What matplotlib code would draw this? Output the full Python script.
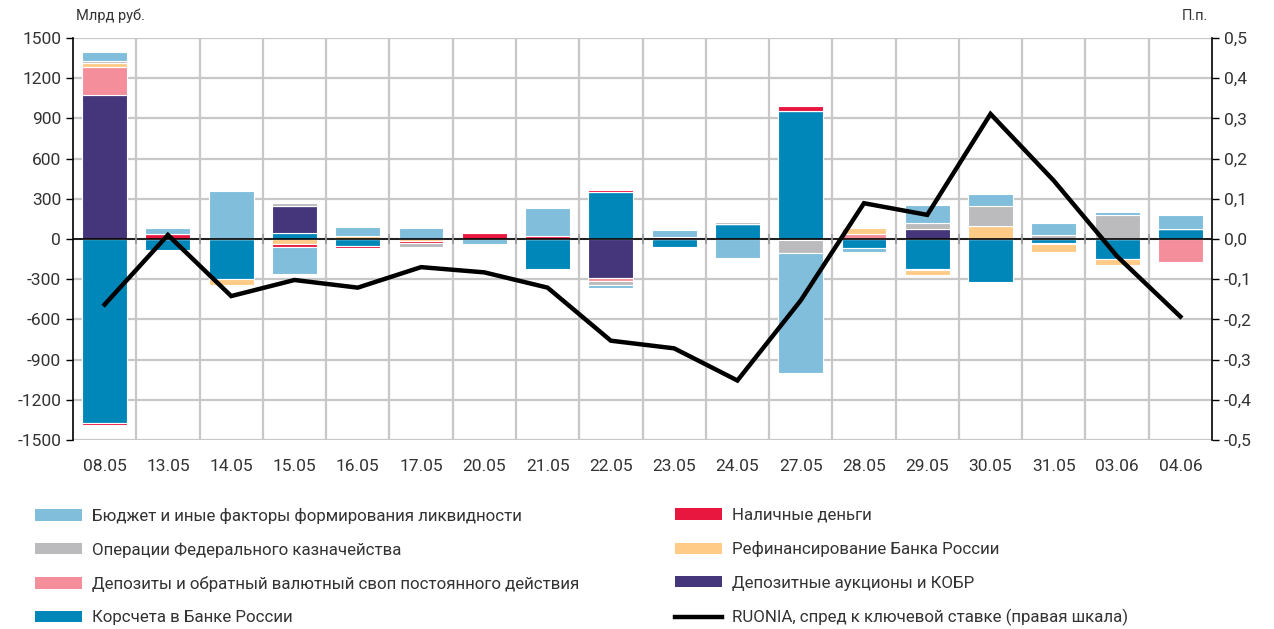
import matplotlib
matplotlib.use("Agg")
import matplotlib.pyplot as plt
import numpy as np
from matplotlib.patches import Patch
from matplotlib.lines import Line2D

plt.rcParams['font.family'] = ['Roboto', 'DejaVu Sans']

dates = ['08.05', '13.05', '14.05', '15.05', '16.05', '17.05', '20.05', '21.05', '22.05',
         '23.05', '24.05', '27.05', '28.05', '29.05', '30.05', '31.05', '03.06', '04.06']

# stacking order (bottom to top)
korschet = [-1370, -80, -296, 45, -50, 0, 0, -221, 351, -60, 110, 955, -65, -221, -321, -27, -149, 72]
auctions = [1075, 0, 0, 204, 0, 0, 0, 0, -289, 0, 0, 0, 0, 77, 0, 0, 0, 0]
deposits = [210, 0, 0, 0, 0, 0, 0, 0, -25, 0, 0, -10, 35, -8, 0, -10, 0, -169]
refin = [25, 0, -50, -40, 20, -12, 0, 0, 0, 0, 0, 0, 45, -42, 97, -57, -42, 0]
cash = [-20, 40, 0, -18, -15, -15, 45, 22, 17, 15, 0, 40, 8, 0, 0, 0, 0, 0]
treasury = [20, 0, 0, 17, 0, -30, 0, 0, -27, 0, 15, -95, 0, 45, 152, 27, 180, 0]
budget = [65, 45, 358, -206, 70, 85, -37, 210, -27, 50, -139, -895, -30, 132, 87, 90, 20, 110]

ruonia = [-0.163, 0.010, -0.142, -0.102, -0.121, -0.070, -0.083, -0.121, -0.253, -0.272,
          -0.352, -0.153, 0.089, 0.060, 0.311, 0.145, -0.043, -0.193]

labels = {
    'budget': 'Бюджет и иные факторы формирования ликвидности',
    'cash': 'Наличные деньги',
    'treasury': 'Операции Федерального казначейства',
    'refin': 'Рефинансирование Банка России',
    'deposits': 'Депозиты и обратный валютный своп постоянного действия',
    'auctions': 'Депозитные аукционы и КОБР',
    'korschet': 'Корсчета в Банке России',
    'ruonia': 'RUONIA, спред к ключевой ставке (правая шкала)',
}
colors = {
    'budget': '#80BEDC',
    'cash': '#E8173F',
    'treasury': '#BBBBBD',
    'refin': '#FFCB87',
    'deposits': '#F48E9B',
    'auctions': '#45357A',
    'korschet': '#0087BA',
}

series = [('korschet', korschet), ('auctions', auctions), ('deposits', deposits),
          ('refin', refin), ('cash', cash), ('treasury', treasury), ('budget', budget)]

fig = plt.figure(figsize=(12.74, 6.29), dpi=100)
ax = fig.add_axes([73/1274, 1-440/629, (1212-73)/1274, (440-38)/629])

x = np.arange(len(dates))
pos = np.zeros(len(dates))
neg = np.zeros(len(dates))
for key, vals in series:
    v = np.array(vals, dtype=float)
    bottom = np.where(v >= 0, pos, neg)
    ax.bar(x, v, bottom=bottom, width=0.71, color=colors[key], edgecolor='white',
           linewidth=0.8, zorder=3)
    pos = pos + np.where(v >= 0, v, 0)
    neg = neg + np.where(v < 0, v, 0)

ax.set_xlim(-0.5, len(dates) - 0.5)
ax.set_ylim(-1500, 1500)
ax.set_yticks(np.arange(-1500, 1501, 300))
ax.set_yticklabels([f"{v}" for v in range(-1500, 1501, 300)])
ax.set_xticks(x)
ax.set_xticklabels(dates)
ax.set_xticks(x[:-1] + 0.5, minor=True)
ax.tick_params(axis='x', which='both', length=0, labelsize=12.5, labelcolor='#333333', pad=14)
ax.tick_params(axis='y', length=5, width=1, labelsize=12.5, colors='black',
               labelcolor='#333333', direction='out')
ax.grid(True, axis='y', color='#c8c8c8', linewidth=1.6, zorder=0)
ax.grid(True, axis='x', which='minor', color='#c8c8c8', linewidth=1.6, zorder=0)
ax.set_axisbelow(True)
for s in ['top', 'bottom']:
    ax.spines[s].set_visible(False)
ax.spines['left'].set_color('black')
ax.spines['left'].set_linewidth(1.2)
ax.spines['right'].set_visible(False)
ax.axhline(0, color='black', linewidth=1.2, zorder=4)
ax.vlines(x[:-1] + 0.5, -40, 40, color='#999999', linewidth=1.2, zorder=4)

ax2 = ax.twinx()
ax2.set_position(ax.get_position())
ax2.set_ylim(-0.5, 0.5)
rt = np.round(np.arange(-0.5, 0.501, 0.1), 1)
ax2.set_yticks(rt)
ax2.set_yticklabels([f"{v:.1f}".replace('.', ',').replace('-0,0', '0,0') for v in rt])
ax2.tick_params(axis='y', length=5, width=1, labelsize=12.5, labelcolor='#333333', direction='out')
for s in ['top', 'bottom', 'left']:
    ax2.spines[s].set_visible(False)
ax2.spines['right'].set_color('black')
ax2.spines['right'].set_linewidth(1.2)
ax2.plot(x, ruonia, color='black', linewidth=3.2, zorder=5, solid_joinstyle='miter')

fig.text(76/1274, 1-16/629, 'Млрд руб.', fontsize=10.5, color='#333333', va='center', ha='left')
fig.text(1208/1274, 1-16/629, 'П.п.', fontsize=10.5, color='#333333', va='center', ha='right')

def ph(key):
    return Patch(facecolor=colors[key], edgecolor='none')

left_keys = ['budget', 'treasury', 'deposits', 'korschet']
right_keys = ['cash', 'refin', 'auctions']
h1 = [ph(k) for k in left_keys]
l1 = [labels[k] for k in left_keys]
h2 = [ph(k) for k in right_keys] + [Line2D([0], [0], color='black', linewidth=3.2)]
l2 = [labels[k] for k in right_keys] + [labels['ruonia']]

common = dict(frameon=False, fontsize=12.2, handlelength=2.8, handleheight=0.65,
              handletextpad=0.55, labelspacing=1.08, borderpad=0, borderaxespad=0,
              labelcolor='#333333')
fig.legend(h1, l1, loc='upper left', bbox_to_anchor=(35/1274, 1-508/629), **common)
fig.legend(h2, l2, loc='upper left', bbox_to_anchor=(675/1274, 1-508/629), **common)

fig.savefig('out.png', dpi=100)
